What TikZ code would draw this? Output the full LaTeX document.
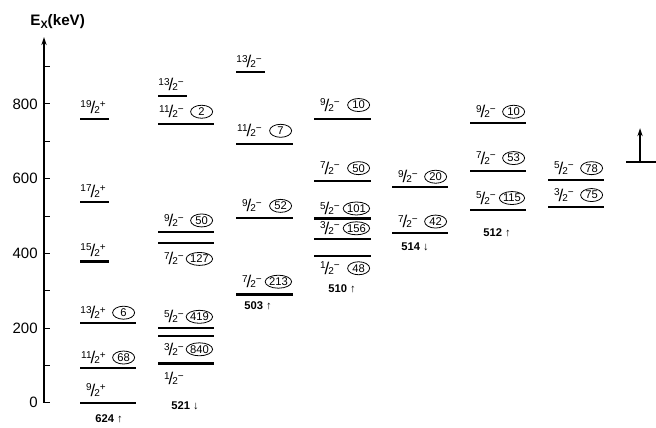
\documentclass[tikz,border=0pt]{standalone}
\usepackage{fontspec}
\setmainfont{Liberation Sans}
\usepackage{tikz}
\usetikzlibrary{arrows.meta, shapes.geometric}

% spin and parity, written as a slanted fraction over 2
\newcommand{\jpi}[2]{\raisebox{2.7pt}{\fontsize{5}{5}\selectfont\makebox[5.6pt][r]{#1}}\kern-.5pt/\kern-.5pt\raisebox{0pt}{\fontsize{5}{5}\selectfont 2}\raisebox{2.7pt}{\fontsize{5}{5}\selectfont #2}}

\begin{document}
\begin{tikzpicture}[x=0.5pt, y=0.18675pt,
    level/.style={line width=1.1pt},
    spin/.style={anchor=west, inner sep=0pt, font=\fontsize{8.5}{9}\selectfont},
    count/.style={draw, ellipse, line width=0.4pt, inner sep=0pt, minimum width=11pt, minimum height=6.5pt, anchor=east, font=\fontsize{5.6}{6}\selectfont},
    band/.style={inner sep=0pt, font=\bfseries\fontsize{5.6}{6}\selectfont},
    tick/.style={anchor=east, inner sep=0pt, font=\fontsize{7.5}{8}\selectfont}]
    \useasboundingbox (0,-65.06) rectangle (656,1078.2);

    % energy axis
    \draw [line width=0.8pt, -{Stealth[length=4pt, width=2.6pt]}] (44,0) -- (44,979);
    \foreach \e in {0,200,...,800} {
        \draw [line width=0.5pt] (44,\e) -- (50,\e);
        \node[tick] (t\e) at (38,\e) {\e};
    }
    \foreach \e in {100,300,...,900}
        \draw [line width=0.3pt] (44,\e) -- (50,\e);
    \node[anchor=west, inner sep=0pt, font=\bfseries\fontsize{7.6}{8}\selectfont] (ex) at (30,1020) {E\raisebox{-1.5pt}{\fontsize{5.4}{6}\selectfont X}(keV)};

    % band 624
    \draw [level] (80,0) -- (136,0);
    \draw [level] (80,94) -- (136,94);
    \draw [level] (80,214) -- (136,214);
    \draw [level] (80,378) -- (109,378);
    \draw [level] (80,538) -- (109,538);
    \draw [level] (80,759) -- (109,759);
    \node[spin] (j624a) at (80,34) {\jpi{9}{+}};
    \node[spin] (j624b) at (80,121) {\jpi{11}{+}};
    \node[count] (n624b) at (135,121) {68};
    \node[spin] (j624c) at (80,241) {\jpi{13}{+}};
    \node[count] (n624c) at (135,241) {6};
    \node[spin] (j624d) at (80,409) {\jpi{15}{+}};
    \node[spin] (j624e) at (80,567) {\jpi{17}{+}};
    \node[spin] (j624f) at (80,792) {\jpi{19}{+}};
    \node[band] (b624) at (109,-44) {624 \textmd{↑}};

    % band 521
    \draw [level] (158,105) -- (214,105);
    \draw [level] (158,179) -- (214,179);
    \draw [level] (158,199) -- (214,199);
    \draw [level] (158,428) -- (214,428);
    \draw [level] (158,457) -- (214,457);
    \draw [level] (158,746) -- (214,746);
    \draw [level] (158,821) -- (187,821);
    \node[spin] (j521a) at (158,65) {\jpi{1}{−}};
    \node[spin] (j521b) at (158,143) {\jpi{3}{−}};
    \node[count] (n521b) at (213,143) {840};
    \node[spin] (j521c) at (158,230) {\jpi{5}{−}};
    \node[count] (n521c) at (213,230) {419};
    \node[spin] (j521d) at (158,385) {\jpi{7}{−}};
    \node[count] (n521d) at (213,385) {127};
    \node[spin] (j521e) at (158,488) {\jpi{9}{−}};
    \node[count] (n521e) at (213,488) {50};
    \node[spin] (j521f) at (158,779) {\jpi{11}{−}};
    \node[count] (n521f) at (213,779) {2};
    \node[spin] (j521g) at (158,851) {\jpi{13}{−}};
    \node[band] (b521) at (185,-8) {521 \textmd{↓}};

    % band 503
    \draw [level] (236,290) -- (293,290);
    \draw [level] (236,494) -- (293,494);
    \draw [level] (236,693) -- (293,693);
    \draw [level] (236,885) -- (265,885);
    \node[spin] (j503a) at (236,324) {\jpi{7}{−}};
    \node[count] (n503a) at (292,324) {213};
    \node[spin] (j503b) at (236,527) {\jpi{9}{−}};
    \node[count] (n503b) at (292,527) {52};
    \node[spin] (j503c) at (236,728) {\jpi{11}{−}};
    \node[count] (n503c) at (292,728) {7};
    \node[spin] (j503d) at (236,913) {\jpi{13}{−}};
    \node[band] (b503) at (258,259) {503 \textmd{↑}};

    % band 510
    \draw [level] (314,393) -- (371,393);
    \draw [level] (314,439) -- (371,439);
    \draw [level] (314,493) -- (371,493);
    \draw [level] (314,594) -- (371,594);
    \draw [level] (314,759) -- (371,759);
    \node[spin] (j510a) at (314,360) {\jpi{1}{−}};
    \node[count] (n510a) at (370,360) {48};
    \node[spin] (j510b) at (314,467) {\jpi{3}{−}};
    \node[count] (n510b) at (370,467) {156};
    \node[spin] (j510c) at (314,520) {\jpi{5}{−}};
    \node[count] (n510c) at (370,520) {101};
    \node[spin] (j510d) at (314,628) {\jpi{7}{−}};
    \node[count] (n510d) at (370,628) {50};
    \node[spin] (j510e) at (314,797) {\jpi{9}{−}};
    \node[count] (n510e) at (370,797) {10};
    \node[band] (b510) at (342,304) {510 \textmd{↑}};

    % band 514
    \draw [level] (392,455) -- (448,455);
    \draw [level] (392,578) -- (448,578);
    \node[spin] (j514a) at (392,485) {\jpi{7}{−}};
    \node[count] (n514a) at (447,485) {42};
    \node[spin] (j514b) at (392,605) {\jpi{9}{−}};
    \node[count] (n514b) at (447,605) {20};
    \node[band] (b514) at (415,418) {514 \textmd{↓}};

    % band 512
    \draw [level] (470,516) -- (526,516);
    \draw [level] (470,621) -- (526,621);
    \draw [level] (470,748) -- (526,748);
    \node[spin] (j512a) at (470,548) {\jpi{5}{−}};
    \node[count] (n512a) at (525,548) {115};
    \node[spin] (j512b) at (470,655) {\jpi{7}{−}};
    \node[count] (n512b) at (525,655) {53};
    \node[spin] (j512c) at (470,779) {\jpi{9}{−}};
    \node[count] (n512c) at (525,779) {10};
    \node[band] (b512) at (497,455) {512 \textmd{↑}};

    % last pair of levels
    \draw [level] (548,525) -- (604,525);
    \draw [level] (548,596) -- (604,596);
    \node[spin] (j5xa) at (548,556) {\jpi{3}{−}};
    \node[count] (n5xa) at (603,556) {75};
    \node[spin] (j5xb) at (548,628) {\jpi{5}{−}};
    \node[count] (n5xb) at (603,628) {78};

    % arrow on the right
    \coordinate (base) at (640,645);
    \coordinate (tip) at (640,735);
    \draw [level] (626,645) -- (656,645);
    \draw [line width=0.8pt, -{Stealth[length=4pt, width=2.6pt]}] (base) -- (tip);

\end{tikzpicture}
\end{document}
